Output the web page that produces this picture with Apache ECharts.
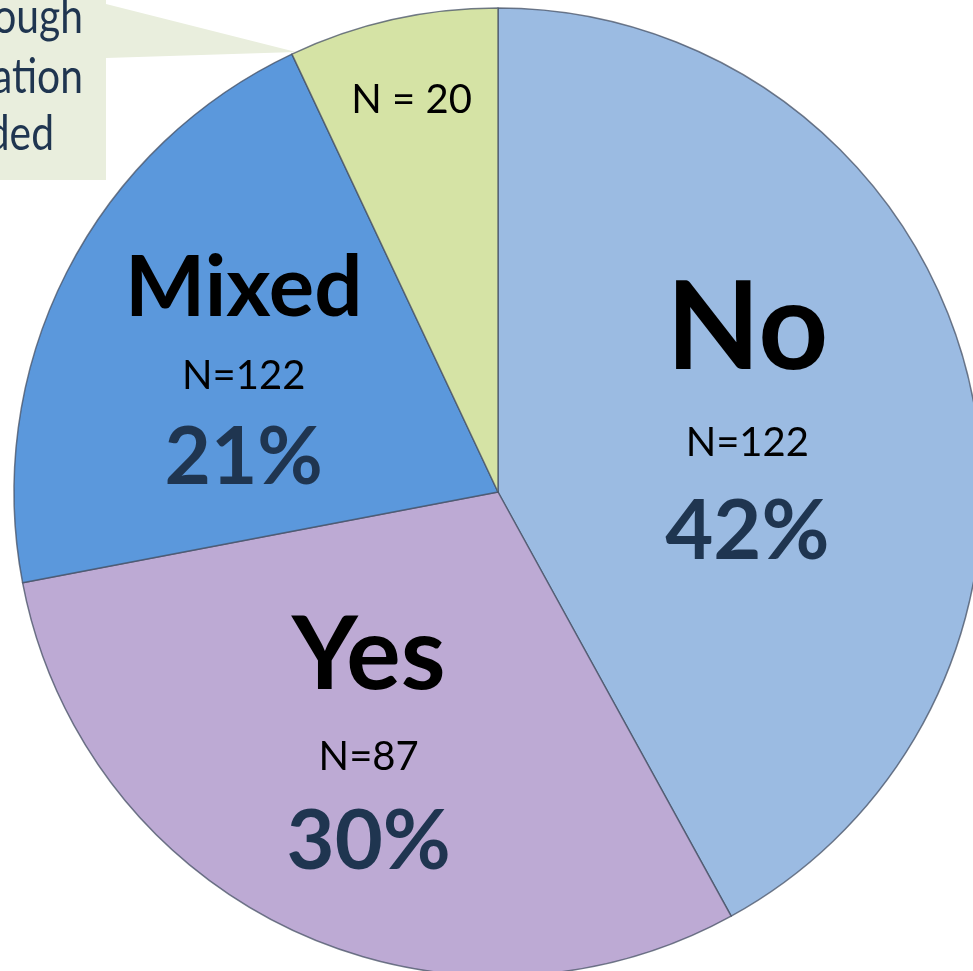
<!DOCTYPE html>
<html>
<head>
<meta charset="utf-8">
<title>Responses</title>
<script src="https://cdn.jsdelivr.net/npm/echarts@6/dist/echarts.min.js"></script>
<style>
  html, body { margin: 0; padding: 0; background: #ffffff; }
  #chart { width: 973px; height: 971px; }
</style>
</head>
<body>
<div id="chart"></div>
<script>
// Answer categories and their shares
const categories = ['No', 'Yes', 'Mixed', 'Not enough information provided'];
const percentages = [42, 30, 21, 7];
const countLabels = ['N=122', 'N=87', 'N=122', 'N = 20'];
const showName = [true, true, true, false];

// Slice colours
const sliceColors = ['#9BBBE2', '#BDAAD4', '#5B98DC', '#D5E3A5'];

// Per-slice label typography and placement
const labelLayouts = [
  { nameSize: 122, nameLH: 166, nLH: 60, pctLH: 118, pctSize: 83, offset: [12, -12] },
  { nameSize: 102, nameLH: 152, nLH: 50, pctLH: 121, pctSize: 83, offset: [-25, 28] },
  { nameSize: 85,  nameLH: 125, nLH: 50, pctLH: 114, pctSize: 80, offset: [-36, -10] },
  { nameSize: 0,   nameLH: 0,   nLH: 50, pctLH: 0,   pctSize: 0,  offset: [-33, -153] }
];

const FONT = 'Lato, "Open Sans", sans-serif';
const NAVY = '#1F3550';

const pieData = categories.map((name, i) => {
  const L = labelLayouts[i];
  const text = showName[i]
    ? `{name|${name}}\n{n|${countLabels[i]}}\n{pct|${percentages[i]}%}`
    : `{n|${countLabels[i]}}`;
  return {
    name: name,
    value: percentages[i],
    itemStyle: { color: sliceColors[i] },
    label: {
      formatter: text,
      offset: L.offset,
      rich: {
        name: { fontFamily: FONT, fontWeight: 'bold', fontSize: L.nameSize, lineHeight: L.nameLH, color: '#000000', align: 'center' },
        n:    { fontFamily: FONT, fontWeight: 'normal', fontSize: 40, lineHeight: L.nLH, color: '#000000', align: 'center' },
        pct:  { fontFamily: FONT, fontWeight: 'bold', fontSize: L.pctSize, lineHeight: L.pctLH, color: NAVY, align: 'center' }
      }
    }
  };
});

// Callout text lines (right-aligned, partly running off the left edge)
const calloutLines = ['Not enough', 'information', 'provided'];
const calloutRight = [83, 83, 54];
const calloutTop = [-6, 54, 111];

const chart = echarts.init(document.getElementById('chart'), null, { renderer: 'canvas' });

const graphics = [
  // Callout box with pointer toward the small slice
  {
    type: 'polygon',
    z: 0,
    shape: { points: [[0, 0], [106, 0], [106, 4], [296, 52], [106, 58], [106, 180], [0, 180]] },
    style: { fill: '#E9EEDD' }
  }
].concat(calloutLines.map((t, i) => ({
  type: 'text',
  z: 1,
  x: calloutRight[i],
  y: calloutTop[i],
  scaleX: 0.85,
  style: {
    text: t, x: 0, y: 0,
    align: 'right', verticalAlign: 'top',
    font: '48px ' + FONT, fill: NAVY
  }
})));

chart.setOption({
  animation: false,
  backgroundColor: '#ffffff',
  graphic: graphics,
  series: [{
    type: 'pie',
    z: 2,
    center: [498, 492],
    radius: 484,
    startAngle: 90,
    clockwise: true,
    avoidLabelOverlap: false,
    silent: true,
    label: { show: true, position: 'inside' },
    labelLine: { show: false },
    emphasis: { disabled: true },
    itemStyle: { borderColor: 'rgba(70, 80, 100, 0.75)', borderWidth: 1.5 },
    data: pieData
  }]
});
</script>
</body>
</html>
